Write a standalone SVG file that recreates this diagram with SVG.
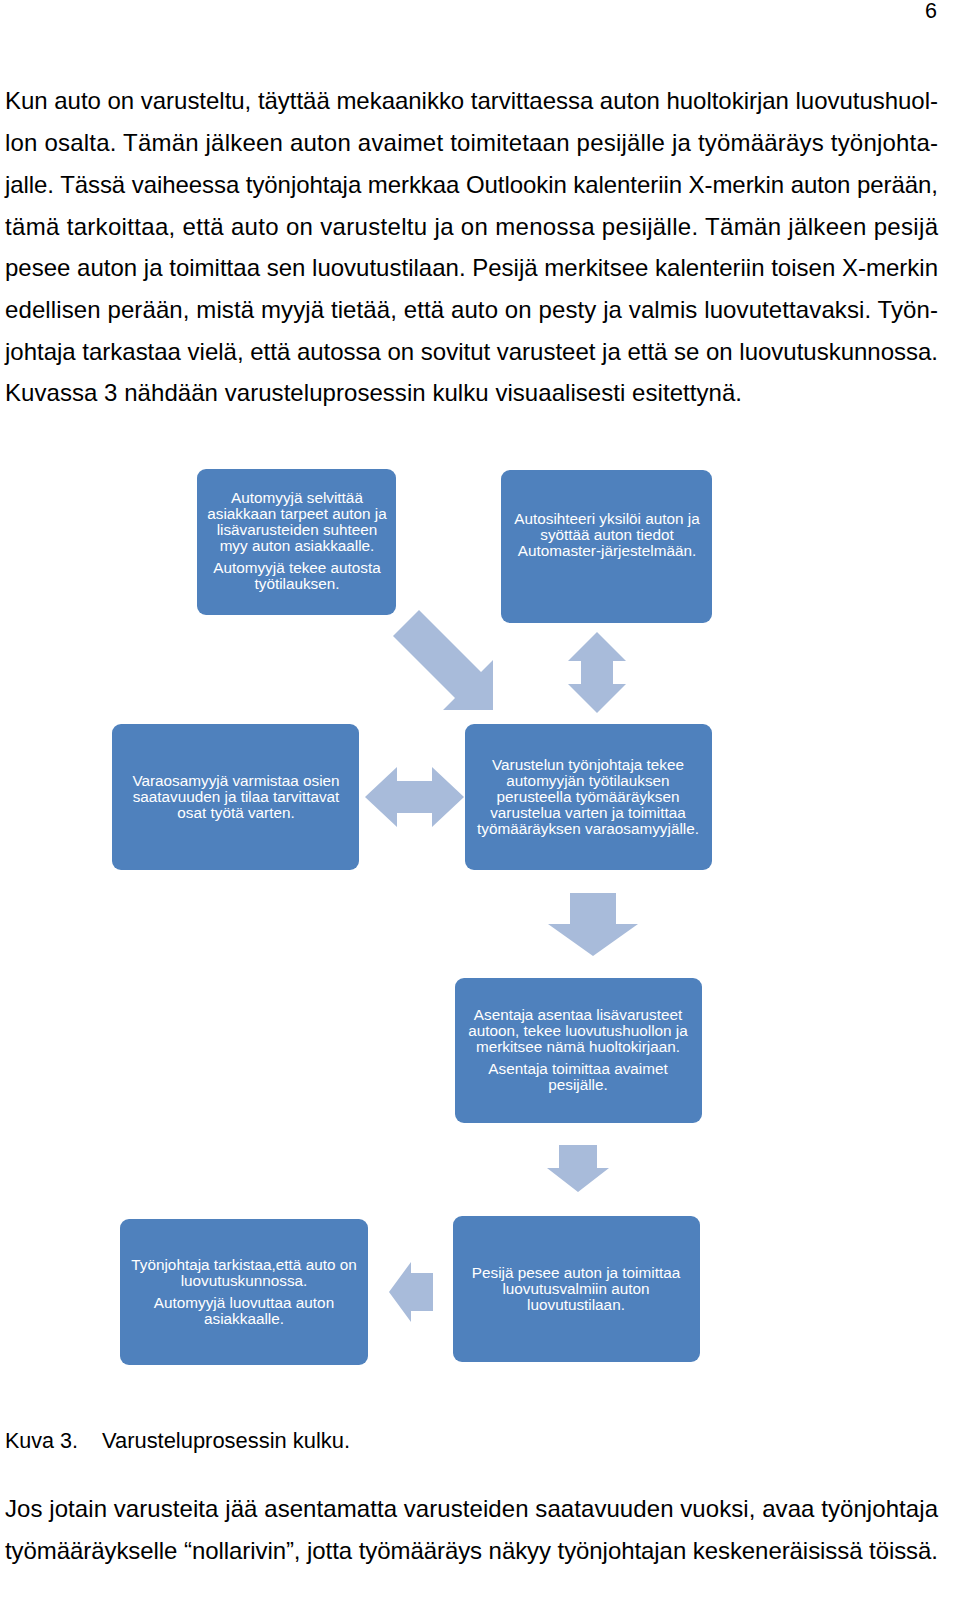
<svg xmlns="http://www.w3.org/2000/svg" width="960" height="1601" viewBox="0 0 960 1601">
<style>
text{font-family:"Liberation Sans",Arial,sans-serif;}
.p{font-size:24px;fill:#000;}
.cap{font-size:21.5px;fill:#000;}
.box{fill:#4F81BD;}
.bt{font-size:15.3px;fill:#fff;text-anchor:middle;}
.arr{fill:#A8BBDA;}
</style>
<rect width="960" height="1601" fill="#fff"/>
<text class="cap" x="937" y="18" text-anchor="end">6</text>
<g id="paragraph1">
<text class="p" x="5" y="109" textLength="933" lengthAdjust="spacing">Kun auto on varusteltu, täyttää mekaanikko tarvittaessa auton huoltokirjan luovutushuol-</text>
<text class="p" x="5" y="151" textLength="933" lengthAdjust="spacing">lon osalta. Tämän jälkeen auton avaimet toimitetaan pesijälle ja työmääräys työnjohta-</text>
<text class="p" x="5" y="193" textLength="933" lengthAdjust="spacing">jalle. Tässä vaiheessa työnjohtaja merkkaa Outlookin kalenteriin X-merkin auton perään,</text>
<text class="p" x="5" y="235" textLength="933" lengthAdjust="spacing">tämä tarkoittaa, että auto on varusteltu ja on menossa pesijälle. Tämän jälkeen pesijä</text>
<text class="p" x="5" y="276" textLength="933" lengthAdjust="spacing">pesee auton ja toimittaa sen luovutustilaan. Pesijä merkitsee kalenteriin toisen X-merkin</text>
<text class="p" x="5" y="318" textLength="933" lengthAdjust="spacing">edellisen perään, mistä myyjä tietää, että auto on pesty ja valmis luovutettavaksi. Työn-</text>
<text class="p" x="5" y="360" textLength="933" lengthAdjust="spacing">johtaja tarkastaa vielä, että autossa on sovitut varusteet ja että se on luovutuskunnossa.</text>
<text class="p" x="5" y="401" textLength="737" lengthAdjust="spacing">Kuvassa 3 nähdään varusteluprosessin kulku visuaalisesti esitettynä.</text>
</g>
<g id="connectors">
<polygon class="arr" points="419,610 481,672 493,660 493,710 443,710 455,698 393,636"/>
<polygon class="arr" points="597,632 626,661 613,661 613,684 626,684 597,713 568,684 581,684 581,661 568,661"/>
<polygon class="arr" points="365,797 397,767 397,781 432,781 432,767 464,797 432,827 432,813 397,813 397,827"/>
<polygon class="arr" points="570,893 616,893 616,924 638,924 593,956 548,924 570,924"/>
<polygon class="arr" points="559,1145 597,1145 597,1168 609,1168 578,1192 547,1168 559,1168"/>
<polygon class="arr" points="433,1273 433,1311 411,1311 411,1322 389,1292 411,1262 411,1273"/>
</g>
<g id="node-automyyja">
<rect class="box" x="197" y="469" width="199" height="146" rx="9"/>
<text class="bt" x="297" y="503">Automyyjä selvittää</text>
<text class="bt" x="297" y="519">asiakkaan tarpeet auton ja</text>
<text class="bt" x="297" y="535">lisävarusteiden suhteen</text>
<text class="bt" x="297" y="551">myy auton asiakkaalle.</text>
<text class="bt" x="297" y="573">Automyyjä tekee autosta</text>
<text class="bt" x="297" y="589">työtilauksen.</text>
</g>
<g id="node-autosihteeri">
<rect class="box" x="501" y="470" width="211" height="153" rx="9"/>
<text class="bt" x="607" y="524">Autosihteeri yksilöi auton ja</text>
<text class="bt" x="607" y="540">syöttää auton tiedot</text>
<text class="bt" x="607" y="556">Automaster-järjestelmään.</text>
</g>
<g id="node-varaosamyyja">
<rect class="box" x="112" y="724" width="247" height="146" rx="9"/>
<text class="bt" x="236" y="786">Varaosamyyjä varmistaa osien</text>
<text class="bt" x="236" y="802">saatavuuden ja tilaa tarvittavat</text>
<text class="bt" x="236" y="818">osat työtä varten.</text>
</g>
<g id="node-tyonjohtaja">
<rect class="box" x="465" y="724" width="247" height="146" rx="9"/>
<text class="bt" x="588" y="770">Varustelun työnjohtaja tekee</text>
<text class="bt" x="588" y="786">automyyjän työtilauksen</text>
<text class="bt" x="588" y="802">perusteella työmääräyksen</text>
<text class="bt" x="588" y="818">varustelua varten ja toimittaa</text>
<text class="bt" x="588" y="834">työmääräyksen varaosamyyjälle.</text>
</g>
<g id="node-asentaja">
<rect class="box" x="455" y="978" width="247" height="145" rx="9"/>
<text class="bt" x="578" y="1020">Asentaja asentaa lisävarusteet</text>
<text class="bt" x="578" y="1036">autoon, tekee luovutushuollon ja</text>
<text class="bt" x="578" y="1052">merkitsee nämä huoltokirjaan.</text>
<text class="bt" x="578" y="1074">Asentaja toimittaa avaimet</text>
<text class="bt" x="578" y="1090">pesijälle.</text>
</g>
<g id="node-pesija">
<rect class="box" x="453" y="1216" width="247" height="146" rx="9"/>
<text class="bt" x="576" y="1278">Pesijä pesee auton ja toimittaa</text>
<text class="bt" x="576" y="1294">luovutusvalmiin auton</text>
<text class="bt" x="576" y="1310">luovutustilaan.</text>
</g>
<g id="node-luovutus">
<rect class="box" x="120" y="1219" width="248" height="146" rx="9"/>
<text class="bt" x="244" y="1270">Työnjohtaja tarkistaa,että auto on</text>
<text class="bt" x="244" y="1286">luovutuskunnossa.</text>
<text class="bt" x="244" y="1308">Automyyjä luovuttaa auton</text>
<text class="bt" x="244" y="1324">asiakkaalle.</text>
</g>
<g id="caption">
<text class="cap" x="5" y="1448" textLength="73" lengthAdjust="spacingAndGlyphs">Kuva 3.</text>
<text class="cap" x="102" y="1448" textLength="248" lengthAdjust="spacingAndGlyphs">Varusteluprosessin kulku.</text>
</g>
<g id="paragraph2">
<text class="p" x="5" y="1517" textLength="933" lengthAdjust="spacing">Jos jotain varusteita jää asentamatta varusteiden saatavuuden vuoksi, avaa työnjohtaja</text>
<text class="p" x="5" y="1559" textLength="933" lengthAdjust="spacing">työmääräykselle “nollarivin”, jotta työmääräys näkyy työnjohtajan keskeneräisissä töissä.</text>
</g>
</svg>
